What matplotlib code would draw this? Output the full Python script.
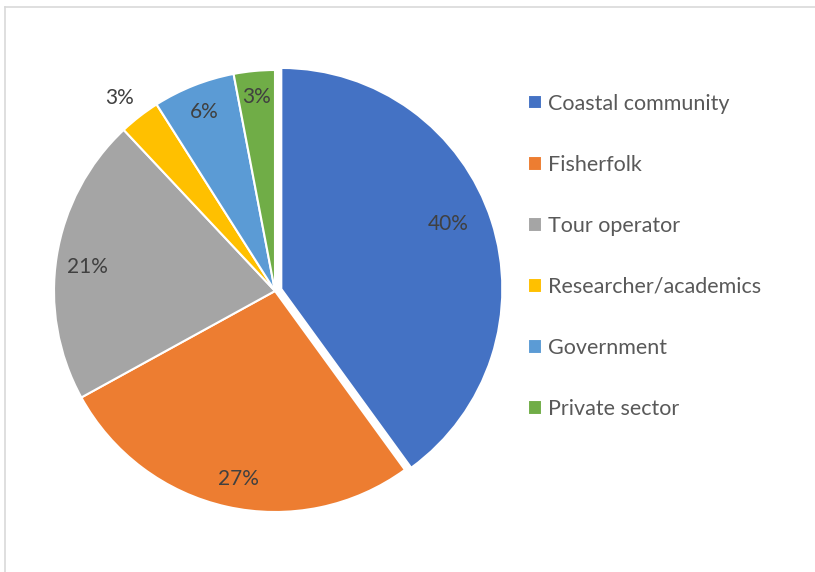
import matplotlib
matplotlib.use("Agg")
import matplotlib.pyplot as plt
from matplotlib.lines import Line2D
import numpy as np

# stakeholder shares (%)
categories = ["Coastal community", "Fisherfolk", "Tour operator",
              "Researcher/academics", "Government", "Private sector"]
shares = [40, 27, 21, 3, 6, 3]
colors = ["#4472C4", "#ED7D31", "#A5A5A5", "#FFC000", "#5B9BD5", "#70AD47"]

plt.rcParams['font.family'] = ['Lato', 'DejaVu Sans']

W, H = 815, 572
fig = plt.figure(figsize=(W / 100, H / 100), dpi=100)

# chart frame (only left and top edge visible)
fig.add_artist(Line2D([5 / W, 5 / W], [0, 1 - 7 / H], color="#D9D9D9", lw=1.2,
                      transform=fig.transFigure))
fig.add_artist(Line2D([5 / W, 1], [1 - 7 / H, 1 - 7 / H], color="#D9D9D9", lw=1.2,
                      transform=fig.transFigure))

R = 221
cx, cy = 275, H - 291
half = 1.15 * R
ax = fig.add_axes([(cx - half) / W, (cy - half) / H, 2 * half / W, 2 * half / H])

explode = [0.03, 0, 0, 0, 0, 0]
wedges, _ = ax.pie(shares, colors=colors, startangle=90, counterclock=False,
                   explode=explode, radius=1,
                   wedgeprops=dict(edgecolor="white", linewidth=1.5))
ax.set_xlim(-1.15, 1.15)
ax.set_ylim(-1.15, 1.15)
ax.axis("off")

# percentage labels (best-fit style placement)
dists = [0.81, 0.865, 0.855, 1.12, 0.87, 0.88]
shifts = [3.3, 1.5, 1.7, 1.0, 0, 0]
for w, val, d, s in zip(wedges, shares, dists, shifts):
    ang = np.deg2rad((w.theta1 + w.theta2) / 2 + s)
    x0, y0 = w.center
    ax.text(x0 + d * np.cos(ang), y0 + d * np.sin(ang), f"{val}%",
            ha="center", va="center", fontsize=15, color="#404040")

leg = ax.legend(wedges, categories, loc="upper left",
                bbox_to_anchor=(519 / W, 1 - 85 / H), bbox_transform=fig.transFigure,
                frameon=False, fontsize=15.5, handlelength=0.68, handleheight=0.68,
                handletextpad=0.25, labelspacing=1.91, borderaxespad=0)
for t in leg.get_texts():
    t.set_color("#595959")

fig.savefig("out.png", dpi=100)
